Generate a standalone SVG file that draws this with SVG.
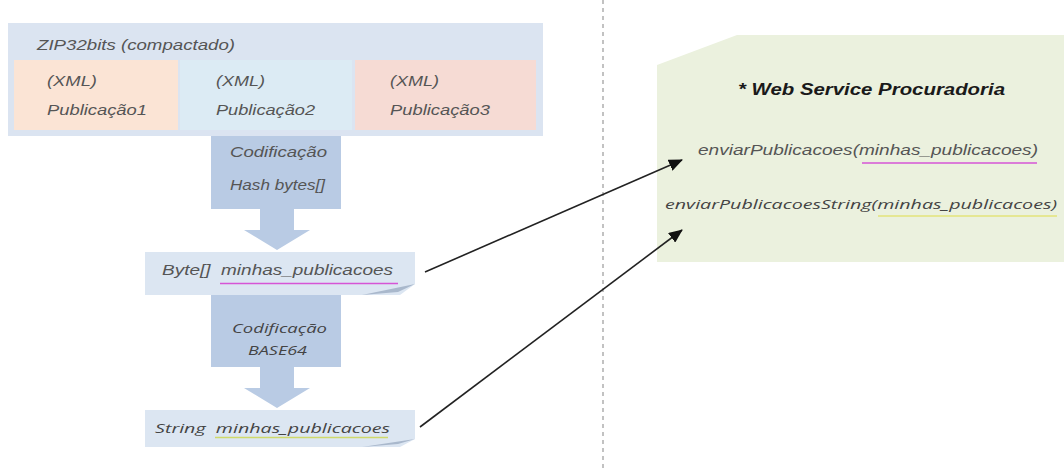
<svg xmlns="http://www.w3.org/2000/svg" width="1064" height="468" viewBox="0 0 1064 468">
<defs>
<style>
.a{font-family:"Liberation Sans",Arial,sans-serif;font-style:italic;font-size:14px;fill:#555}
.c{font-family:"Open Sans","Noto Sans",sans-serif;font-style:italic;font-size:13px;fill:#444}
.t{font-family:"Liberation Sans",Arial,sans-serif;font-style:italic;font-weight:bold;font-size:16px;fill:#1a1a1a}
.pre{white-space:pre}
.blk{fill:#b9cbe4}
.lt{fill:#dce6f2}
.fold{fill:#a9b8cc}
.conn{stroke:#222;stroke-width:1.6;fill:none;marker-end:url(#ah)}
</style>
<marker id="ah" markerWidth="14" markerHeight="12" refX="13" refY="6" orient="auto" markerUnits="userSpaceOnUse" viewBox="0 0 14 12">
<path d="M0,0 L14,6 L0,12 z" fill="#111"/>
</marker>
</defs>
<rect width="1064" height="468" fill="#fff"/>
<line x1="603" y1="0" x2="603" y2="468" stroke="#9a9a9a" stroke-width="1.2" stroke-dasharray="4 4"/>

<g id="zip">
<rect x="8" y="23" width="535" height="113" fill="#dbe4f1"/>
<text class="a" x="37" y="50" textLength="198" lengthAdjust="spacingAndGlyphs">ZIP32bits (compactado)</text>
</g>
<g id="pub1">
<rect x="14" y="60" width="164" height="70" fill="#fbe4d5"/>
<text class="a" x="47" y="86" textLength="50" lengthAdjust="spacingAndGlyphs">(XML)</text>
<text class="a" x="47" y="115" textLength="100" lengthAdjust="spacingAndGlyphs">Publicação1</text>
</g>
<g id="pub2">
<rect x="180" y="60" width="172" height="70" fill="#dcebf4"/>
<text class="a" x="216" y="86" textLength="49" lengthAdjust="spacingAndGlyphs">(XML)</text>
<text class="a" x="216" y="115" textLength="99" lengthAdjust="spacingAndGlyphs">Publicação2</text>
</g>
<g id="pub3">
<rect x="355" y="60" width="181" height="70" fill="#f6dbd4"/>
<text class="a" x="390" y="86" textLength="49" lengthAdjust="spacingAndGlyphs">(XML)</text>
<text class="a" x="390" y="115" textLength="100" lengthAdjust="spacingAndGlyphs">Publicação3</text>
</g>

<g id="cod1">
<polygon class="blk" points="211,136 341,136 341,209 294,209 294,230 310,230 277,250 244,230 260,230 260,209 211,209"/>
<text class="a" x="230" y="157" textLength="97" lengthAdjust="spacingAndGlyphs">Codificação</text>
<text class="a" x="230" y="190" textLength="95" lengthAdjust="spacingAndGlyphs">Hash bytes[]</text>
</g>

<g id="bytes">
<polygon class="lt" points="145,252 415,252 415,284 400,295 145,295"/>
<polygon class="fold" points="362,295 415,284 398,292"/>
<text class="a pre" x="162" y="275" textLength="231" lengthAdjust="spacingAndGlyphs">Byte[]  minhas_publicacoes</text>
<line x1="220" y1="283.5" x2="398" y2="283.5" stroke="#d655d6" stroke-width="1.3"/>
</g>

<g id="cod2">
<polygon class="blk" points="211,295 341,295 341,367 294,367 294,388 310,388 277,408 244,388 260,388 260,367 211,367"/>
<text class="c" x="232" y="333" textLength="95" lengthAdjust="spacingAndGlyphs">Codificação</text>
<text class="c" x="248" y="355" textLength="59" lengthAdjust="spacingAndGlyphs">BASE64</text>
</g>

<g id="string">
<polygon class="lt" points="145,410 415,410 415,439 400,447 145,447"/>
<polygon class="fold" points="362,447 415,439 398,444"/>
<text class="c pre" x="155" y="433" textLength="235" lengthAdjust="spacingAndGlyphs">String  minhas_publicacoes</text>
<line x1="215" y1="437.5" x2="388" y2="437.5" stroke="#cfd96a" stroke-width="1.5"/>
</g>

<g id="webservice">
<polygon points="657,65 737,35 1064,35 1064,262 657,262" fill="#ebf1de"/>
<text class="t" x="738" y="95" textLength="267" lengthAdjust="spacingAndGlyphs">* Web Service Procuradoria</text>
<text class="a" x="698" y="155" textLength="340" lengthAdjust="spacingAndGlyphs">enviarPublicacoes(minhas_publicacoes)</text>
<line x1="862" y1="163" x2="1037" y2="163" stroke="#d655d6" stroke-width="1.3"/>
<text class="c" x="665" y="209" textLength="392" lengthAdjust="spacingAndGlyphs">enviarPublicacoesString(minhas_publicacoes)</text>
<line x1="878" y1="216" x2="1057" y2="216" stroke="#e3e37a" stroke-width="1.5"/>
</g>

<g id="connectors">
<line class="conn" x1="425" y1="272" x2="682" y2="160"/>
<line class="conn" x1="420" y1="427" x2="682" y2="230"/>
</g>
</svg>
